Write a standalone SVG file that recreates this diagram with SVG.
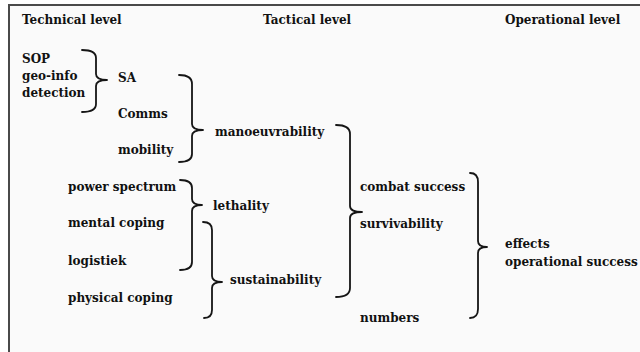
<svg xmlns="http://www.w3.org/2000/svg" width="640" height="352" viewBox="0 0 640 352">
<style>
text{font-family:"DejaVu Serif","Liberation Serif",serif;font-weight:bold;font-size:12px;fill:#111111}
.brace{fill:none;stroke:#151515;stroke-width:1.8;stroke-linecap:round;stroke-linejoin:round}
.frame{fill:none;stroke:#4a4a4a;stroke-width:2}
</style>
<rect x="0" y="0" width="640" height="352" fill="#ffffff"/>
<rect x="9" y="5" width="631" height="347" fill="#fafafa"/>
<path class="frame" d="M9,352 V5 H640"/>
<g id="headers">
<g id="h-technical"><text x="22" y="24">Technical level</text></g>
<g id="h-tactical"><text x="263" y="24">Tactical level</text></g>
<g id="h-operational"><text x="505" y="24">Operational level</text></g>
</g>
<g id="n-sop-geo-detection"><text x="22" y="63">SOP</text><text x="22" y="80">geo-info</text><text x="22" y="97">detection</text></g>
<g id="n-sa"><text x="118" y="82">SA</text></g>
<g id="n-comms"><text x="118" y="118">Comms</text></g>
<g id="n-mobility"><text x="118" y="154">mobility</text></g>
<g id="n-manoeuvrability"><text x="215" y="136">manoeuvrability</text></g>
<g id="n-power"><text x="68" y="191">power spectrum</text></g>
<g id="n-mental"><text x="68" y="227">mental coping</text></g>
<g id="n-logistiek"><text x="68" y="265">logistiek</text></g>
<g id="n-physical"><text x="68" y="302">physical coping</text></g>
<g id="n-lethality"><text x="213" y="210">lethality</text></g>
<g id="n-sustainability"><text x="230" y="284">sustainability</text></g>
<g id="n-combat"><text x="360" y="191">combat success</text></g>
<g id="n-survivability"><text x="360" y="228">survivability</text></g>
<g id="n-numbers"><text x="360" y="322">numbers</text></g>
<g id="n-effects"><text x="505" y="248">effects</text><text x="505" y="266">operational success</text></g>
<g id="connectors">
<path class="brace" d="M82,50 Q96,50 96,58 L96,74 Q96,80 107,80 Q96,80 96,86 L96,104 Q96,112 82,112"/>
<path class="brace" d="M179,75 Q192,75 192,84 L192,124 Q192,130 203,130 Q192,130 192,136 L192,154 Q192,162 179,162"/>
<path class="brace" d="M336,125 Q350,125 350,134 L350,206 Q350,212 362,212 Q350,212 350,218 L350,288 Q350,297 336,297"/>
<path class="brace" d="M470,173 Q478,173 478,182 L478,241 Q478,247 487,247 Q478,247 478,253 L478,309 Q478,318 470,318"/>
<path class="brace" d="M180,180 Q192,180 192,188 L192,199 Q192,205 202,205 Q192,205 192,211 L192,262 Q192,270 180,270"/>
<path class="brace" d="M203,222 Q212,222 212,230 L212,276 Q212,282 222,282 Q212,282 212,288 L212,310 Q212,318 204,318"/>
</g>
</svg>
